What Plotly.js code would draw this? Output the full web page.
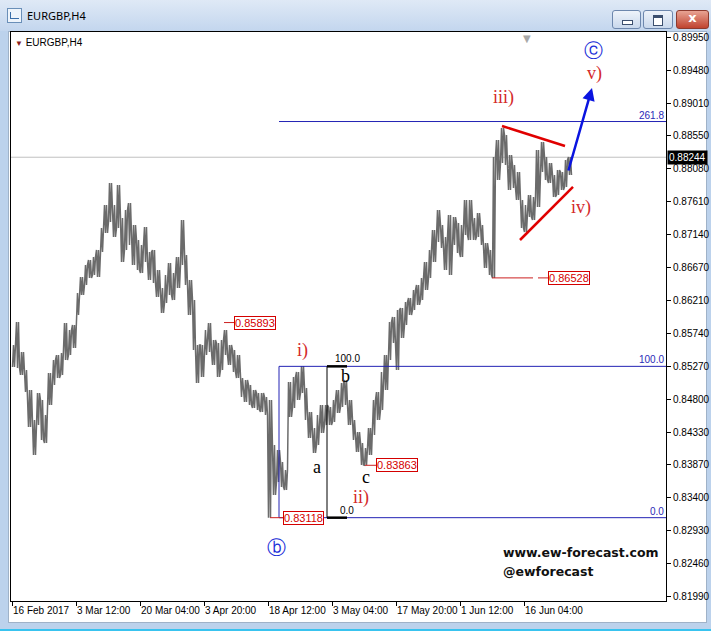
<!DOCTYPE html>
<html><head><meta charset="utf-8">
<script src="https://cdn.plot.ly/plotly-3.0.1.min.js"></script>
<style>
html,body{margin:0;padding:0;width:711px;height:631px;overflow:hidden;background:#bcd2ec;}
#titlebar{position:absolute;left:0;top:0;width:711px;height:31px;background:linear-gradient(#dfe9f6,#c3d6ee);}
#ttext{position:absolute;left:27px;top:8px;font:11px 'Noto Sans','Open Sans',sans-serif;color:#000;}
#ticon{position:absolute;left:7px;top:8px;width:13px;height:13px;border:1px solid #6a8fb8;background:#eef4fb;}
#ticon:after{content:'';position:absolute;left:2px;top:3px;width:8px;height:6px;border-left:1px solid #3a6ea8;border-bottom:1px solid #3a6ea8;}
.btn{position:absolute;top:10px;height:17px;border:1px solid #6d87ad;border-radius:3px;background:linear-gradient(#eef3fa,#c9d8ec);}
#bmin{left:612px;width:27px;} #bmax{left:643px;width:28px;} #bcls{left:676px;width:31px;background:linear-gradient(#e8a393,#c0432f);border-color:#8d3a2e;}
#bmin:after{content:'';position:absolute;left:9px;top:9px;width:9px;height:3px;border:1px solid #3c4f6e;background:#fff;}
#bmax:after{content:'';position:absolute;left:9px;top:4px;width:8px;height:7px;border:1px solid #3c4f6e;border-top-width:3px;background:#fff;}
#bcls span{position:absolute;left:0;top:-1px;width:31px;text-align:center;font:bold 13px 'DejaVu Sans',sans-serif;color:#fff;}
#client{position:absolute;left:8px;top:31px;width:697px;height:590px;background:#fff;border:1px solid #9fb2c8;}
#bottomline{position:absolute;left:0;top:629px;width:711px;height:2px;background:#39c3ef;}
#chart{position:absolute;left:0;top:0;width:711px;height:631px;}
</style></head><body>
<div id="titlebar"><div id="ticon"></div><div id="ttext">EURGBP,H4</div>
<div class="btn" id="bmin"></div><div class="btn" id="bmax"></div><div class="btn" id="bcls"><span>x</span></div></div>
<div id="client"></div>
<div id="bottomline"></div>
<div id="chart"></div>
<script>
// ---- data (each sample = 4 H4 bars) ----
const barsPerSample = 4;
const high = [0.85574,0.85901,0.85474,0.85218,0.84934,0.84507,0.84891,0.84792,0.84578,0.85176,
0.85360,0.85431,0.85460,0.85887,0.85787,0.85858,0.86313,0.86541,0.86712,0.86783,
0.86825,0.86925,0.87238,0.87565,0.87878,0.87565,0.87849,0.87380,0.87494,0.87593,
0.87280,0.87067,0.86996,0.87252,0.86896,0.86925,0.86640,0.86384,0.86569,0.86740,
0.86598,0.86825,0.87352,0.86854,0.86498,0.86214,0.85574,0.85574,0.85787,0.85887,
0.85645,0.85602,0.85645,0.85787,0.85574,0.85503,0.85431,0.85104,0.85076,0.85005,
0.84934,0.84891,0.84891,0.84834,0.84792,0.84151,0.84080,0.83910,0.83796,0.85047,
0.85119,0.85190,0.85275,0.84962,0.84621,0.84393,0.84578,0.84720,0.84720,0.84692,
0.84792,0.84934,0.85033,0.85076,0.84792,0.84507,0.84336,0.84180,0.84109,0.84393,
0.84792,0.84905,0.85190,0.85431,0.85901,0.85972,0.86072,0.86100,0.86185,0.86242,
0.86356,0.86427,0.86527,0.86754,0.86925,0.87209,0.87494,0.87280,0.87110,0.87423,
0.87394,0.87309,0.87280,0.87636,0.87636,0.87380,0.87451,0.87280,0.87024,0.86925,
0.88248,0.88489,0.88660,0.88560,0.88276,0.88134,0.88034,0.87636,0.87565,0.87707,
0.87679,0.88347,0.88461,0.88248,0.88162,0.87992,0.88063,0.88034,0.88205,0.88248];
const low = [0.85261,0.85247,0.85147,0.84905,0.84407,0.84009,0.84436,0.84223,0.84180,0.84720,
0.85005,0.85104,0.85147,0.85360,0.85431,0.85531,0.86000,0.86285,0.86427,0.86527,
0.86569,0.86541,0.86896,0.87167,0.87323,0.87110,0.87238,0.86754,0.86925,0.86996,
0.86712,0.86640,0.86598,0.86754,0.86498,0.86456,0.86256,0.86029,0.86171,0.86285,
0.86214,0.86384,0.86712,0.86427,0.86000,0.85503,0.85033,0.85119,0.85431,0.85474,
0.85289,0.85119,0.85218,0.85431,0.85289,0.85190,0.85104,0.84834,0.84763,0.84720,
0.84678,0.84649,0.84621,0.84578,0.83118,0.83440,0.83625,0.83554,0.83511,0.84550,
0.84678,0.84792,0.84891,0.84507,0.84251,0.84038,0.84151,0.84322,0.84436,0.84436,
0.84479,0.84607,0.84692,0.84720,0.84436,0.84223,0.84052,0.83867,0.83863,0.84009,
0.84294,0.84507,0.84649,0.84934,0.85360,0.85602,0.85218,0.85673,0.85858,0.86000,
0.86072,0.86143,0.86214,0.86356,0.86527,0.86754,0.87039,0.86953,0.86640,0.86569,
0.86996,0.86882,0.86825,0.87138,0.87067,0.87067,0.87110,0.86996,0.86669,0.86569,
0.86528,0.87920,0.88162,0.88134,0.87778,0.87807,0.87636,0.87238,0.87181,0.87394,
0.87352,0.87536,0.88034,0.87920,0.87878,0.87679,0.87707,0.87778,0.87821,0.87992];
const tickLabels = ['16 Feb 2017','3 Mar 12:00','20 Mar 04:00','3 Apr 20:00','18 Apr 12:00','3 May 04:00','17 May 20:00','1 Jun 12:00','16 Jun 04:00'];
const tickBars = [0,64,128,192,256,320,384,448,512];
const priceTicks = [0.89950,0.89480,0.89010,0.88550,0.88080,0.87610,0.87140,0.86670,0.86210,0.85740,0.85270,0.84800,0.84330,0.83870,0.83400,0.82930,0.82460,0.81990];
const currentPrice = 0.88244;
const fibLow = 0.83118, fibHigh = 0.85270;
const fibLevels = [0, 100, 261.8];
const priceMarks = [
  {v:0.85893, bar:222, l0:212}, {v:0.83863, bar:364, l0:353},
  {v:0.83118, bar:271, l0:258}, {v:0.86528, bar:536, l0:480}];

// zig-zag through each sample's high and low -> dense vertical strokes like an H4 bar chart
const zx = [], zy = [];
high.forEach((h,i)=>{
  const x0 = i*barsPerSample;
  const up = i%2===0;
  zx.push(x0+0.5, x0+1.5, x0+2.5, x0+3.5);
  zy.push(up?low[i]:high[i], up?high[i]:low[i], up?low[i]:high[i], up?high[i]:low[i]);
});
const traces = [{
  type:'scatter', mode:'lines', x:zx, y:zy, line:{color:'#6b6b6b', width:1.5}, hoverinfo:'skip'
}];

const fibPrice = l => fibLow + (fibHigh-fibLow)*l/100;
const NAVY='#2323b4', RED='#e00000', LRED='#d42a2a';
const shapes = [];
const ann = [];
const F = "'Liberation Sans',Arial,sans-serif";

shapes.push({type:'line', xref:'paper', x0:0, x1:1, yref:'y', y0:currentPrice, y1:currentPrice, line:{color:'#c0c0c0', width:1}, layer:'below'});
fibLevels.forEach(l=>{
  const p = fibPrice(l);
  shapes.push({type:'line', xref:'x', x0:267, x1:654, yref:'y', y0:p, y1:p, line:{color:NAVY, width:1}});
  ann.push({x:654, y:p, xref:'x', yref:'y', xanchor:'right', yanchor:'bottom', text:l.toFixed(1), showarrow:false, font:{family:F, size:10, color:'#2a2ab8'}, borderpad:0, xshift:-1});
});
shapes.push({type:'line', x0:267, x1:267, y0:fibLow, y1:fibHigh, line:{color:NAVY, width:1}});
shapes.push({type:'line', x0:315, x1:315, y0:fibLow, y1:fibHigh, line:{color:'#000', width:1}});
[0,100].forEach(l=>{
  const p=fibPrice(l);
  shapes.push({type:'line', x0:315, x1:335, y0:p, y1:p, line:{color:'#000', width:2.5}});
  ann.push({x:l===100?322:327, y:p, xanchor:'left', yanchor:'bottom', text:l.toFixed(1), showarrow:false, font:{family:F, size:10, color:'#000'}, borderpad:0, yshift:1});
});
priceMarks.forEach(m=>{
  if (m.v===0.86528) {
    shapes.push({type:'line', x0:m.l0, x1:521, y0:m.v, y1:m.v, line:{color:'#cc2020', width:1}});
    shapes.push({type:'line', x0:526, x1:m.bar, y0:m.v, y1:m.v, line:{color:'#cc2020', width:1}});
  } else {
    shapes.push({type:'line', x0:m.l0, x1:m.bar, y0:m.v, y1:m.v, line:{color:'#cc2020', width:1}});
  }
  ann.push({x:m.bar, y:m.v, xanchor:'left', yanchor:'middle', text:m.v.toFixed(5), showarrow:false,
    font:{family:F, size:11, color:'#d40000'}, bgcolor:'#fff', bordercolor:'#d40000', borderwidth:1, borderpad:0});
});
shapes.push({type:'line', x0:490, y0:0.88688, x1:553, y1:0.88404, line:{color:RED, width:2.5}});
shapes.push({type:'line', x0:508, y0:0.87067, x1:561, y1:0.87821, line:{color:RED, width:2.5}});
ann.push({x:580, y:0.89229, ax:556, ay:0.88034, axref:'x', ayref:'y', xref:'x', yref:'y', text:'', showarrow:true,
  arrowhead:2, arrowsize:1, arrowwidth:2.5, arrowcolor:'#0a14e0'});
const serif = "'Liberation Serif','DejaVu Serif',serif";
[['i)',290,0.85489],['ii)',349,0.83412],['iii)',491,0.89087],['iv)',569,0.87536],['v)',582,0.89428]].forEach(w=>{
  ann.push({x:w[1], y:w[2], text:w[0], showarrow:false, font:{family:serif, size:18, color:LRED}});
});
[['a',305,0.83839],['b',333,0.85133],['c',354,0.83696]].forEach(w=>{
  ann.push({x:w[1], y:w[2], text:w[0], showarrow:false, font:{family:serif, size:18, color:'#000'}});
});
[['ⓑ',264,0.82701],['ⓒ',581,0.89769]].forEach(w=>{
  ann.push({x:w[1], y:w[2], text:w[0], showarrow:false, font:{family:"'DejaVu Sans',sans-serif", size:19, color:'#1c2fd8'}});
});
ann.push({xref:'paper', x:1, y:currentPrice, xanchor:'left', yanchor:'middle', text:currentPrice.toFixed(5), showarrow:false,
  font:{family:F, size:10, color:'#fff'}, bgcolor:'#000', borderpad:1, xshift:1});
ann.push({xref:'paper', yref:'paper', x:0, y:1, xanchor:'left', yanchor:'top', xshift:2, yshift:-3, showarrow:false,
  text:"<span style='color:#8b1c1c;font-size:8px'>▼</span> EURGBP,H4", font:{family:F, size:10, color:'#000'}});
ann.push({x:515, yref:'paper', y:1, yanchor:'top', yshift:1, showarrow:false, text:'▼', font:{family:"'DejaVu Sans',sans-serif", size:10, color:'#a8a8a8'}});
ann.push({xref:'paper', yref:'paper', x:0.748, y:0.0844, xanchor:'left', yanchor:'middle', showarrow:false,
  text:'<b>www.ew-forecast.com</b>', font:{family:"'DejaVu Sans',sans-serif", size:12.5, color:'#111'}});
ann.push({xref:'paper', yref:'paper', x:0.748, y:0.0510, xanchor:'left', yanchor:'middle', showarrow:false,
  text:'<b>@ewforecast</b>', font:{family:"'DejaVu Sans',sans-serif", size:12.5, color:'#111'}});
tickLabels.forEach((t,i)=>{
  ann.push({x:tickBars[i], yref:'paper', y:0, xanchor:'left', yanchor:'top', yshift:-3, xshift:0, text:t, showarrow:false,
    font:{family:F, size:10, color:'#000'}, borderpad:0});
});

const layout = {
  width:711, height:631, margin:{l:11, r:45, t:32, b:30},
  paper_bgcolor:'rgba(0,0,0,0)', plot_bgcolor:'#fff', showlegend:false,
  xaxis:{range:[-1,654], showgrid:false, zeroline:false, showline:true, mirror:true, linecolor:'#000', linewidth:1,
    tickmode:'array', tickvals:tickBars, ticks:'outside', ticklen:4, tickcolor:'#000', showticklabels:false, fixedrange:true},
  yaxis:{range:[0.81933,0.90025], side:'right', showgrid:false, zeroline:false, showline:true, mirror:true, linecolor:'#000', linewidth:1,
    tickmode:'array', tickvals:priceTicks, ticktext:priceTicks.map(v=>v.toFixed(5)), ticks:'outside', ticklen:4, tickcolor:'#000',
    tickfont:{family:F, size:10, color:'#000'}, fixedrange:true},
  shapes:shapes, annotations:ann
};
Plotly.newPlot('chart', traces, layout, {staticPlot:true, displayModeBar:false});
</script>
</body></html>
